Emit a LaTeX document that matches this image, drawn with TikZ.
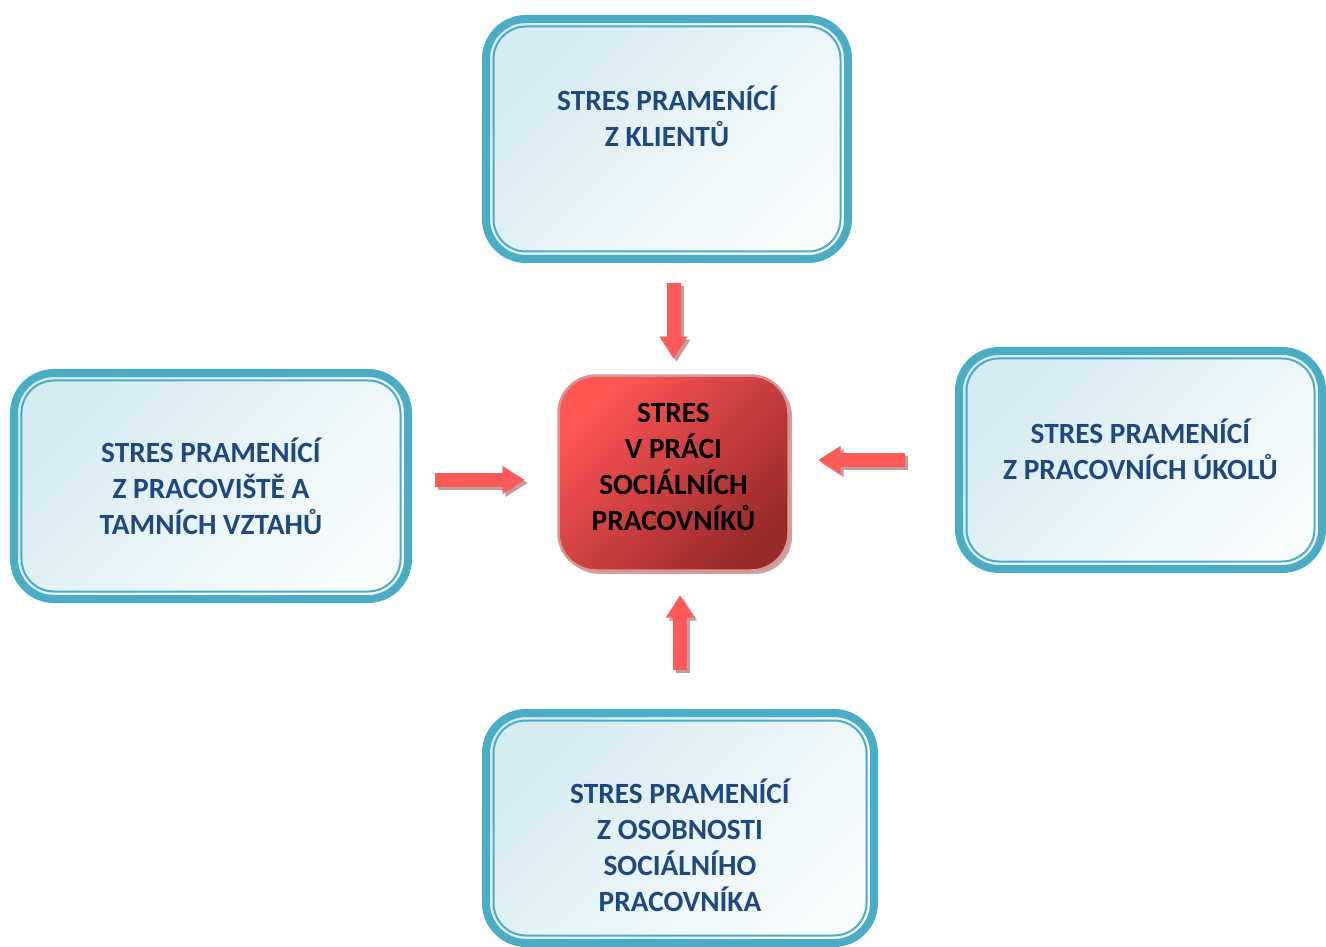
\documentclass[tikz,border=0pt]{standalone}
\usepackage{fontspec}
\setmainfont{Carlito}
\usepackage{xcolor}
\definecolor{frameTeal}{HTML}{4BACC6}
\definecolor{boxTop}{HTML}{D6EBF2}
\definecolor{boxBottom}{HTML}{F8FCFD}
\definecolor{labelBlue}{HTML}{1F497D}
\definecolor{stresLight}{HTML}{FF5555}
\definecolor{stresDark}{HTML}{982A2A}
\definecolor{stresEdge}{HTML}{D99594}
\definecolor{arrowRed}{HTML}{FF5A5A}
\definecolor{arrowShade}{HTML}{C49A9A}
\usetikzlibrary{arrows.meta,shadows}

\tikzset{
  srcbox/.style={rectangle, rounded corners=0.8cm, draw=frameTeal, line width=0.16cm,
    top color=boxTop, bottom color=boxBottom, shading angle=45, outer sep=0pt,
    align=center, text=labelBlue, font=\bfseries\fontsize{16.7}{20.5}\selectfont},
  innerframe/.style={draw=frameTeal, line width=0.04cm, rounded corners=0.65cm},
  stresbox/.style={rectangle, rounded corners=0.75cm, draw=stresEdge, line width=0.05cm,
    top color=stresLight, bottom color=stresDark, shading angle=45, outer sep=0pt,
    minimum width=4.6cm, minimum height=3.9cm, align=center, text=black,
    font=\bfseries\fontsize{16.7}{20.5}\selectfont,
    drop shadow={shadow xshift=0.07cm, shadow yshift=-0.07cm, fill=arrowShade, opacity=0.9}},
  stressarrow/.style={line width=0.28cm, draw=arrowRed,
    -{Triangle[width=0.56cm, length=0.44cm, line width=0.4pt, fill=arrowRed]}},
  arrowshadow/.style={stressarrow, draw=arrowShade,
    -{Triangle[width=0.56cm, length=0.44cm, line width=0.4pt, fill=arrowShade]},
    transform canvas={shift={(0.06,-0.06)}}}
}

\begin{document}
\begin{tikzpicture}
  \useasboundingbox (0,0) rectangle (26.52,-18.94);
  \node[srcbox, minimum width=7.24cm, minimum height=4.8cm] (klienti) at (13.34,-2.78)
    {STRES PRAMENÍCÍ\\Z KLIENTŮ\\[5.3pt]};
  \node[srcbox, minimum width=7.88cm, minimum height=4.52cm] (pracoviste) at (4.22,-9.72)
    {STRES PRAMENÍCÍ\\Z PRACOVIŠTĚ A\\TAMNÍCH VZTAHŮ};
  \node[srcbox, minimum width=7.26cm, minimum height=4.36cm] (ukoly) at (22.81,-9.2)
    {STRES PRAMENÍCÍ\\Z PRACOVNÍCH ÚKOLŮ\\[-8.3pt]};
  \node[srcbox, minimum width=7.76cm, minimum height=4.6cm] (osobnost) at (13.6,-16.56)
    {\\[13.4pt]STRES PRAMENÍCÍ\\Z OSOBNOSTI\\SOCIÁLNÍHO\\PRACOVNÍKA};
  \node[stresbox] (stres) at (13.47,-9.46)
    {STRES\\V PRÁCI\\SOCIÁLNÍCH\\PRACOVNÍKŮ\\[-13.4pt]};
  \foreach \b in {klienti,pracoviste,ukoly,osobnost}
    \draw[innerframe] ([shift={(0.15,-0.15)}]\b.north west) rectangle ([shift={(-0.15,0.15)}]\b.south east);
  % arrows into the centre
  \draw[arrowshadow, shorten <=0.48cm, shorten >=0.34cm] (klienti.south -| stres.center) -- (stres.north);
  \draw[stressarrow, shorten <=0.48cm, shorten >=0.34cm] (klienti.south -| stres.center) -- (stres.north);
  \draw[arrowshadow, shorten <=0.54cm, shorten >=0.68cm] ([yshift=0.12cm]pracoviste.east) -- ([yshift=0.12cm]pracoviste.east -| stres.west);
  \draw[stressarrow, shorten <=0.54cm, shorten >=0.68cm] ([yshift=0.12cm]pracoviste.east) -- ([yshift=0.12cm]pracoviste.east -| stres.west);
  \draw[arrowshadow, shorten <=1.08cm, shorten >=0.6cm] (ukoly.west) -- (ukoly.west -| stres.east);
  \draw[stressarrow, shorten <=1.08cm, shorten >=0.6cm] (ukoly.west) -- (ukoly.west -| stres.east);
  \draw[arrowshadow, shorten <=0.86cm, shorten >=0.5cm] (osobnost.north) -- (osobnost.north |- stres.south);
  \draw[stressarrow, shorten <=0.86cm, shorten >=0.5cm] (osobnost.north) -- (osobnost.north |- stres.south);
\end{tikzpicture}
\end{document}
